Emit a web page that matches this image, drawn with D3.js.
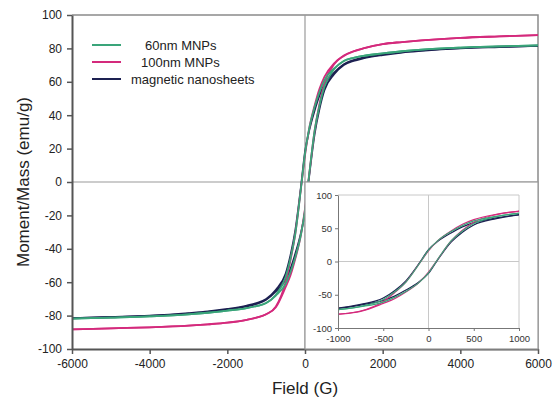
<!DOCTYPE html>
<html>
<head>
<meta charset="utf-8">
<script src="https://cdn.jsdelivr.net/npm/d3@7/dist/d3.min.js"></script>
<style>
  body { margin: 0; background: #fff; }
  svg { display: block; font-family: "Liberation Sans", Arial, sans-serif; }
</style>
</head>
<body>
<div id="chart"></div>
<script>
"use strict"

// field values (G) shared by every branch
var fieldG = [-6000, -5000, -4000, -3000, -2500, -2000, -1500, -1250, -1000, -750, -500, -375, -250, -100, 0, 100, 250, 375, 500, 750, 1000, 1250, 1500, 2000, 2500, 3000, 4000, 5000, 6000];

// branch coming down from +saturation
var green60Down = [-81.8, -81.2, -80.5, -79.3, -78.3, -77, -75.5, -74.3, -72.5, -67.5, -57, -46, -31, -3, 17, 31, 45, 54, 61, 68, 72.5, 74.3, 75.5, 77, 78.3, 79.3, 80.5, 81.2, 81.8];
// branch coming up from -saturation
var green60Up = [-81.8, -81.2, -80.5, -79.3, -78.3, -77, -75.5, -74.3, -72.5, -68, -61, -54, -45, -31, -17, 3, 31, 46, 57, 67.5, 72.5, 74.3, 75.5, 77, 78.3, 79.3, 80.5, 81.2, 81.8];

var pink100Down = [-88.3, -87.6, -87, -86, -85.2, -84.2, -82.5, -81.2, -79.2, -74.5, -60, -47, -31, -3, 16, 31, 46, 56, 63, 71, 75.8, 78.3, 80, 82.6, 83.8, 84.8, 86.3, 87.2, 88];
var pink100Up = [-88.3, -87.6, -87, -86, -85.2, -84.2, -82.5, -81.2, -79.2, -75, -63, -56, -46, -31, -16, 3, 31, 47, 59, 70.5, 75.5, 78.2, 80, 82.6, 83.8, 84.8, 86.3, 87.2, 88];

var navyDown = [-81.5, -80.8, -80, -78.5, -77.5, -76, -74, -72.5, -70, -64.5, -55, -44, -29, -2, 18, 30, 43, 52, 58.5, 65.5, 70.5, 73, 74.5, 76.5, 77.8, 78.8, 80.2, 81, 81.6];
var navyUp = [-81.6, -81, -80.2, -78.8, -77.8, -76.5, -74.5, -73, -70.5, -65.5, -58.5, -52, -43, -30, -18, 2, 29, 44, 55, 64.5, 70, 72.5, 74, 76, 77.5, 78.5, 80, 80.8, 81.5];

var seriesNames = ["60nm MNPs", "100nm MNPs", "magnetic nanosheets"];
var seriesColors = ["#3aa57a", "#d42a7c", "#1d2152"];

var xTicks = [-6000, -4000, -2000, 0, 2000, 4000, 6000];
var yTicks = [-100, -80, -60, -40, -20, 0, 20, 40, 60, 80, 100];
var insetXTicks = [-1000, -500, 0, 500, 1000];
var insetYTicks = [-100, -50, 0, 50, 100];

var series = [
    {name: seriesNames[2], color: seriesColors[2], down: navyDown, up: navyUp},
    {name: seriesNames[1], color: seriesColors[1], down: pink100Down, up: pink100Up},
    {name: seriesNames[0], color: seriesColors[0], down: green60Down, up: green60Up}
];

var width = 553, height = 399;
var svg = d3.select("#chart").append("svg").attr("width", width).attr("height", height);

var x = d3.scaleLinear().domain([-6000, 6000]).range([72, 538]);
var y = d3.scaleLinear().domain([-100, 100]).range([349, 15]);
var plainFormat = function(d){ return String(d); };

svg.append("clipPath").attr("id", "mainClip")
    .append("rect").attr("x", 72).attr("y", 15).attr("width", 466).attr("height", 334);

// frame top / right
svg.append("path").attr("d", "M72,15H538V349")
    .attr("fill", "none").attr("stroke", "#8a8a8a").attr("stroke-width", 1.5);

// zero lines
svg.append("line").attr("x1", x(0)).attr("x2", x(0)).attr("y1", 15).attr("y2", 349)
    .attr("stroke", "#9a9a9a").attr("stroke-width", 1.2);
svg.append("line").attr("x1", 72).attr("x2", 538).attr("y1", y(0)).attr("y2", y(0))
    .attr("stroke", "#9a9a9a").attr("stroke-width", 1.2);

function pts(arr){
    return fieldG.map(function(h, i){ return [h, arr[i]]; });
}

var line = d3.line().x(function(d){ return x(d[0]); }).y(function(d){ return y(d[1]); })
    .curve(d3.curveMonotoneX);

var curves = svg.append("g").attr("clip-path", "url(#mainClip)");
series.forEach(function(s){
    [s.down, s.up].forEach(function(arr){
        curves.append("path").datum(pts(arr))
            .attr("d", line).attr("fill", "none")
            .attr("stroke", s.color).attr("stroke-width", 1.8);
    });
});

// axes
var xAxis = svg.append("g").attr("transform", "translate(0,349)")
    .call(d3.axisBottom(x).tickValues(xTicks).tickFormat(plainFormat).tickSize(5).tickSizeOuter(0).tickPadding(5));
var yAxis = svg.append("g").attr("transform", "translate(72,0)")
    .call(d3.axisLeft(y).tickValues(yTicks).tickFormat(plainFormat).tickSize(5).tickSizeOuter(0).tickPadding(5));
[xAxis, yAxis].forEach(function(a){
    a.select(".domain").attr("stroke", "#555").attr("stroke-width", 2);
    a.selectAll(".tick line").attr("stroke", "#555").attr("stroke-width", 1.5);
    a.selectAll(".tick text").attr("fill", "#222").style("font-size", "12px")
        .style("font-family", "'Liberation Sans', Arial, sans-serif");
});

svg.append("text").attr("x", x(0)).attr("y", 394).attr("text-anchor", "middle")
    .style("font-size", "17px").attr("fill", "#222").text("Field (G)");
svg.append("text").attr("transform", "translate(29,182) rotate(-90)").attr("text-anchor", "middle")
    .style("font-size", "17px").attr("fill", "#222").text("Moment/Mass (emu/g)");

// legend
var legendY = [45, 62, 79];
var legendTextX = [145, 141, 131];
seriesNames.forEach(function(n, i){
    svg.append("line").attr("x1", 92).attr("x2", 121).attr("y1", legendY[i]).attr("y2", legendY[i])
        .attr("stroke", seriesColors[i]).attr("stroke-width", 2);
    svg.append("text").attr("x", legendTextX[i]).attr("y", legendY[i] + 4.5)
        .style("font-size", "13px").attr("fill", "#222").text(n);
});

// inset
var inset = svg.append("g");
inset.append("rect").attr("x", x(0)).attr("y", y(0)).attr("width", 538 - x(0)).attr("height", 349 - y(0))
    .attr("fill", "#fff").attr("stroke", "#9a9a9a").attr("stroke-width", 1.2);

var ix = d3.scaleLinear().domain([-1000, 1000]).range([338, 519]);
var iy = d3.scaleLinear().domain([-100, 100]).range([328, 195]);

svg.append("clipPath").attr("id", "insetClip")
    .append("rect").attr("x", 338).attr("y", 195).attr("width", 181).attr("height", 133);

inset.append("path").attr("d", "M338,195H519V328").attr("fill", "none")
    .attr("stroke", "#c8c8c8").attr("stroke-width", 1);
inset.append("line").attr("x1", ix(0)).attr("x2", ix(0)).attr("y1", 195).attr("y2", 328)
    .attr("stroke", "#c8c8c8").attr("stroke-width", 1);
inset.append("line").attr("x1", 338).attr("x2", 519).attr("y1", iy(0)).attr("y2", iy(0))
    .attr("stroke", "#c8c8c8").attr("stroke-width", 1);

var iline = d3.line().x(function(d){ return ix(d[0]); }).y(function(d){ return iy(d[1]); })
    .curve(d3.curveMonotoneX);
var icurves = inset.append("g").attr("clip-path", "url(#insetClip)");
series.forEach(function(s){
    [s.down, s.up].forEach(function(arr){
        icurves.append("path").datum(pts(arr))
            .attr("d", iline).attr("fill", "none")
            .attr("stroke", s.color).attr("stroke-width", 1.2);
    });
});

var ixAxis = inset.append("g").attr("transform", "translate(0,328)")
    .call(d3.axisBottom(ix).tickValues(insetXTicks).tickFormat(plainFormat).tickSize(3).tickSizeOuter(0).tickPadding(4));
var iyAxis = inset.append("g").attr("transform", "translate(338,0)")
    .call(d3.axisLeft(iy).tickValues(insetYTicks).tickFormat(plainFormat).tickSize(3).tickSizeOuter(0).tickPadding(3));
[ixAxis, iyAxis].forEach(function(a){
    a.select(".domain").attr("stroke", "#777").attr("stroke-width", 1);
    a.selectAll(".tick line").attr("stroke", "#777");
    a.selectAll(".tick text").attr("fill", "#333").style("font-size", "9.5px")
        .style("font-family", "'Liberation Sans', Arial, sans-serif");
});
</script>
</body>
</html>
